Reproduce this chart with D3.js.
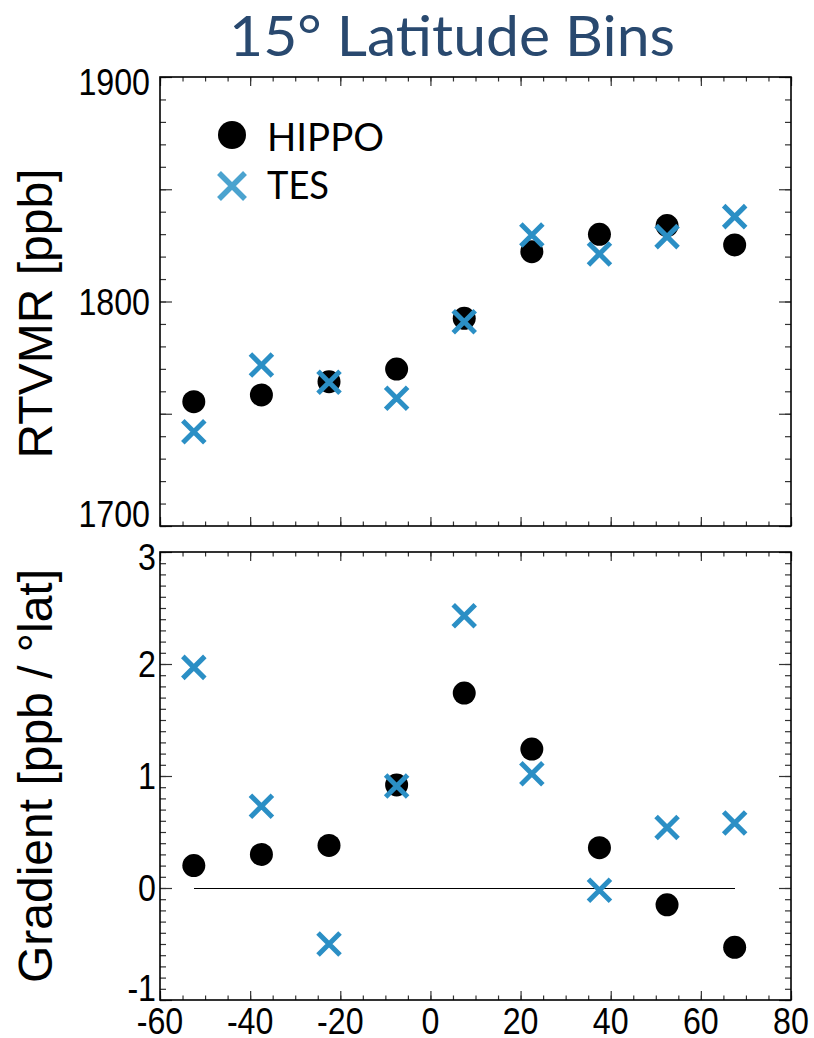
<!DOCTYPE html>
<meta charset="utf-8">
<style>
    html, body {
        margin: 0;
        padding: 0;
        background: #fff;
    }
    .num {
        font-family: "Liberation Sans", Arial, sans-serif;
        font-size: 37px;
        fill: #000;
    }
    .ytitle {
        font-family: "Liberation Sans", Arial, sans-serif;
        font-size: 48px;
        fill: #000;
    }
    .tick line {
        stroke: #333;
        stroke-width: 1.2;
    }
    .domain {
        display: none;
    }
</style>
<svg id="chart" width="814" height="1038"></svg>
<script src="https://d3js.org/d3.v7.min.js"></script>
<script>
    // latitude bin centres (15 degree bins)
    const bins = [-52.5, -37.5, -22.5, -7.5, 7.5, 22.5, 37.5, 52.5, 67.5];

    // RTVMR [ppb]
    const hippoRtvmr = [1755.4, 1758.4, 1764.3, 1769.9, 1792.5, 1822.2, 1829.9, 1833.8, 1825.2];
    const tesRtvmr = [1742.0, 1771.7, 1764.0, 1756.9, 1791.0, 1829.6, 1821.2, 1828.9, 1837.8];

    // gradient [ppb / deg lat]
    const hippoGrad = [0.20, 0.30, 0.38, 0.92, 1.74, 1.24, 0.36, -0.15, -0.53];
    const tesGrad = [1.97, 0.73, -0.50, 0.91, 2.43, 1.02, -0.02, 0.54, 0.58];

    const xTickLabels = [-60, -40, -20, 0, 20, 40, 60, 80];
    const rtvmrTickLabels = [1700, 1800, 1900];
    const gradTickLabels = [-1, 0, 1, 2, 3];

    const svg = d3.select("#chart");
    const left = 160, right = 791;
    const tesColor = "#2b8fc5";

    let x = d3.scaleLinear().domain([-60, 80]).range([left, right]);

    let panels = [
        {top: 77, bottom: 526, domain: [1700, 1900], minor: 10, major: 50,
         labels: rtvmrTickLabels, hippo: hippoRtvmr, tes: tesRtvmr,
         title: "RTVMR [ppb]", labelX: 150},
        {top: 552, bottom: 1000, domain: [-1, 3], minor: 0.1, major: 1,
         labels: gradTickLabels, hippo: hippoGrad, tes: tesGrad,
         title: "Gradient [ppb / °lat]", labelX: 156}
    ];

    function steps(d, step) {
        return d3.range(Math.round((d[1] - d[0]) / step) + 1).map(i => d[0] + i * step);
    }

    panels.forEach(function (p, pi) {
        let y = d3.scaleLinear().domain(p.domain).range([p.bottom, p.top]);
        let g = svg.append("g");

        // inward ticks on all four sides
        let xMinor = steps([-60, 80], 5), xMajor = steps([-60, 80], 20);
        let yMinor = steps(p.domain, p.minor), yMajor = steps(p.domain, p.major);
        let fmt = () => "";

        g.append("g").attr("transform", `translate(0,${p.bottom})`)
            .call(d3.axisBottom(x).tickValues(xMinor).tickSize(-4.5).tickFormat(fmt));
        g.append("g").attr("transform", `translate(0,${p.bottom})`)
            .call(d3.axisBottom(x).tickValues(xMajor).tickSize(-9).tickFormat(fmt));
        g.append("g").attr("transform", `translate(0,${p.top})`)
            .call(d3.axisTop(x).tickValues(xMinor).tickSize(-4.5).tickFormat(fmt));
        g.append("g").attr("transform", `translate(0,${p.top})`)
            .call(d3.axisTop(x).tickValues(xMajor).tickSize(-9).tickFormat(fmt));
        g.append("g").attr("transform", `translate(${left},0)`)
            .call(d3.axisLeft(y).tickValues(yMinor).tickSize(-6).tickFormat(fmt));
        g.append("g").attr("transform", `translate(${left},0)`)
            .call(d3.axisLeft(y).tickValues(yMajor).tickSize(-12).tickFormat(fmt));
        g.append("g").attr("transform", `translate(${right},0)`)
            .call(d3.axisRight(y).tickValues(yMinor).tickSize(-6).tickFormat(fmt));
        g.append("g").attr("transform", `translate(${right},0)`)
            .call(d3.axisRight(y).tickValues(yMajor).tickSize(-12).tickFormat(fmt));

        // frame
        g.append("rect")
            .attr("x", left).attr("y", p.top)
            .attr("width", right - left).attr("height", p.bottom - p.top)
            .attr("fill", "none").attr("stroke", "#000").attr("stroke-width", 1.6);

        // y tick labels (end labels kept inside the frame as in the original)
        g.selectAll("text.ylab").data(p.labels).join("text")
            .attr("class", "num ylab")
            .attr("text-anchor", "end")
            .attr("transform", d => {
                let cy = Math.max(p.top + 5, Math.min(p.bottom - 12, y(d)));
                return `translate(${p.labelX},${cy + 13.3}) scale(0.87,1)`;
            })
            .text(d => d);

        // y title
        g.append("text")
            .attr("class", "ytitle")
            .attr("text-anchor", "middle")
            .attr("transform", `translate(52,${(p.top + p.bottom) / 2 + (pi ? 0 : 12)}) rotate(-90)`)
            .text(p.title);

        // zero line in gradient panel
        if (pi === 1) {
            g.append("line")
                .attr("x1", x(d3.min(bins))).attr("x2", x(d3.max(bins)))
                .attr("y1", y(0) + 0.5).attr("y2", y(0) + 0.5)
                .attr("stroke", "#000").attr("stroke-width", 1)
                .attr("shape-rendering", "crispEdges");
        }

        // HIPPO circles
        g.selectAll("circle.hippo").data(bins).join("circle")
            .attr("class", "hippo")
            .attr("cx", d => x(d))
            .attr("cy", (d, i) => y(p.hippo[i]))
            .attr("r", 11.5)
            .attr("fill", "#000");

        // TES crosses
        let s = 11;
        g.selectAll("path.tes").data(bins).join("path")
            .attr("class", "tes")
            .attr("transform", (d, i) => `translate(${x(d)},${y(p.tes[i])})`)
            .attr("d", `M${-s},${-s}L${s},${s}M${-s},${s}L${s},${-s}`)
            .attr("stroke", tesColor)
            .attr("stroke-width", 5)
            .attr("fill", "none");

        // x tick labels only under the lower panel
        if (pi === 1) {
            g.selectAll("text.xlab").data(xTickLabels).join("text")
                .attr("class", "num xlab")
                .attr("text-anchor", "middle")
                .attr("transform", d => `translate(${x(d)},${p.bottom + 34}) scale(0.87,1)`)
                .text(d => d);
        }
    });

    // legend
    let legend = svg.append("g");
    legend.append("circle").attr("cx", 232).attr("cy", 135).attr("r", 14).attr("fill", "#000");
    let ls = 13;
    legend.append("path")
        .attr("transform", "translate(232,186)")
        .attr("d", `M${-ls},${-ls}L${ls},${ls}M${-ls},${ls}L${ls},${-ls}`)
        .attr("stroke", "#4ba3cf").attr("stroke-width", 5.5).attr("fill", "none");
    legend.append("text")
        .attr("x", 267).attr("y", 151)
        .attr("font-family", "Lato, 'Open Sans', sans-serif")
        .attr("font-size", 39)
        .attr("textLength", 117).attr("lengthAdjust", "spacingAndGlyphs")
        .text("HIPPO");
    legend.append("text")
        .attr("x", 267).attr("y", 199)
        .attr("font-family", "Lato, 'Open Sans', sans-serif")
        .attr("font-size", 39)
        .attr("textLength", 62).attr("lengthAdjust", "spacingAndGlyphs")
        .text("TES");

    // title
    svg.append("text")
        .attr("x", 452).attr("y", 56)
        .attr("text-anchor", "middle")
        .attr("font-family", "Lato, 'Open Sans', sans-serif")
        .attr("font-size", 57)
        .attr("fill", "#29496f")
        .attr("textLength", 446).attr("lengthAdjust", "spacingAndGlyphs")
        .text("15° Latitude Bins");
</script>
